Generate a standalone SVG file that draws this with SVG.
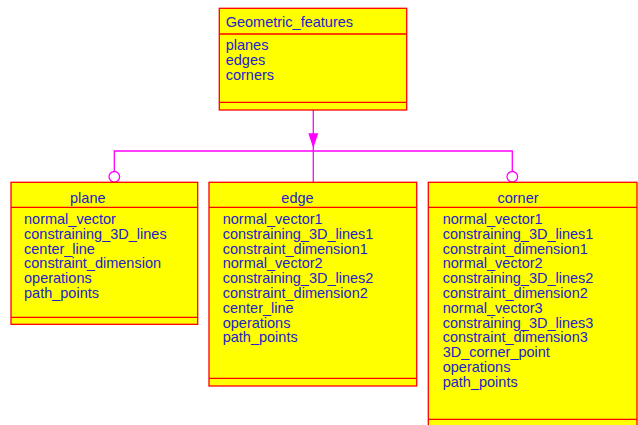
<svg xmlns="http://www.w3.org/2000/svg" width="638" height="425" viewBox="0 0 638 425">
  <style>
    .box { fill: #ffff00; stroke: #ff0000; stroke-width: 1.3; }
    .sep { stroke: #ff0000; stroke-width: 1.3; fill: none; }
    .txt { font-family: "Liberation Sans", Arial, sans-serif; font-size: 14.5px; fill: #2222cc; }
    .title { text-anchor: middle; }
    .link { stroke: #ff00ff; stroke-width: 1.3; fill: none; }
    .ring { stroke: #ff00ff; stroke-width: 1.3; fill: #ffffff; }
  </style>
  <rect width="638" height="425" fill="#ffffff"/>

  <!-- connectors: inheritance tree -->
  <g id="connectors">
    <path class="link" d="M313.3,110 V182.3"/>
    <path class="link" d="M114.3,177 V151 H512.3 V177"/>
    <polygon points="308.3,133.3 318.3,133.3 313.3,148.3" fill="#ff00ff"/>
    <circle class="ring" cx="114.3" cy="176.8" r="5.3"/>
    <circle class="ring" cx="512.3" cy="176.8" r="5.3"/>
  </g>

  <g id="Geometric_features">
    <rect class="box" x="219.3" y="8.3" width="187.4" height="101.7"/>
    <path class="sep" d="M219.3,34 H406.7 M219.3,102.3 H406.7"/>
    <text class="txt" x="225.7" y="27.3">Geometric_features</text>
    <text class="txt" x="225.7" y="50">planes</text>
    <text class="txt" x="225.7" y="64.8">edges</text>
    <text class="txt" x="225.7" y="79.6">corners</text>
  </g>

  <g id="plane">
    <rect class="box" x="11" y="182.3" width="186.7" height="142"/>
    <path class="sep" d="M11,207.3 H197.7 M11,317.3 H197.7"/>
    <text class="txt title" x="87.8" y="202.5">plane</text>
    <text class="txt" x="24" y="224">normal_vector</text>
    <text class="txt" x="24" y="238.8">constraining_3D_lines</text>
    <text class="txt" x="24" y="253.6">center_line</text>
    <text class="txt" x="24" y="268.4">constraint_dimension</text>
    <text class="txt" x="24" y="283.2">operations</text>
    <text class="txt" x="24" y="298">path_points</text>
  </g>

  <g id="edge">
    <rect class="box" x="209" y="182.3" width="207.7" height="203.7"/>
    <path class="sep" d="M209,207.3 H416.7 M209,378.3 H416.7"/>
    <text class="txt title" x="297.5" y="202.5">edge</text>
    <text class="txt" x="222.7" y="224">normal_vector1</text>
    <text class="txt" x="222.7" y="238.8">constraining_3D_lines1</text>
    <text class="txt" x="222.7" y="253.6">constraint_dimension1</text>
    <text class="txt" x="222.7" y="268.4">normal_vector2</text>
    <text class="txt" x="222.7" y="283.2">constraining_3D_lines2</text>
    <text class="txt" x="222.7" y="298">constraint_dimension2</text>
    <text class="txt" x="222.7" y="312.8">center_line</text>
    <text class="txt" x="222.7" y="327.6">operations</text>
    <text class="txt" x="222.7" y="342.4">path_points</text>
  </g>

  <g id="corner">
    <rect class="box" x="428.3" y="182.3" width="208.7" height="250"/>
    <path class="sep" d="M428.3,207.3 H637 M428.3,419.3 H637"/>
    <text class="txt title" x="518" y="202.5">corner</text>
    <text class="txt" x="442.7" y="224">normal_vector1</text>
    <text class="txt" x="442.7" y="238.8">constraining_3D_lines1</text>
    <text class="txt" x="442.7" y="253.6">constraint_dimension1</text>
    <text class="txt" x="442.7" y="268.4">normal_vector2</text>
    <text class="txt" x="442.7" y="283.2">constraining_3D_lines2</text>
    <text class="txt" x="442.7" y="298">constraint_dimension2</text>
    <text class="txt" x="442.7" y="312.8">normal_vector3</text>
    <text class="txt" x="442.7" y="327.6">constraining_3D_lines3</text>
    <text class="txt" x="442.7" y="342.4">constraint_dimension3</text>
    <text class="txt" x="442.7" y="357.2">3D_corner_point</text>
    <text class="txt" x="442.7" y="372">operations</text>
    <text class="txt" x="442.7" y="386.8">path_points</text>
  </g>
</svg>
